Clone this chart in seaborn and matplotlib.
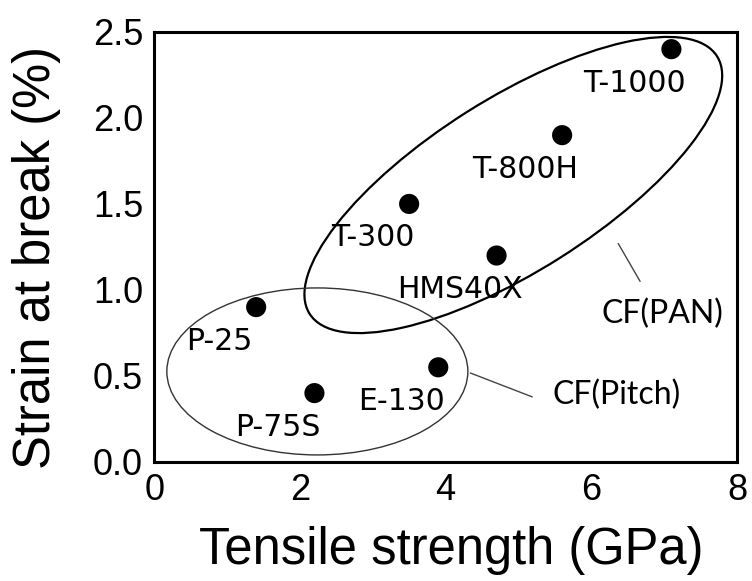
import numpy as np
import pandas as pd
import matplotlib
matplotlib.use("Agg")
import matplotlib.pyplot as plt
import matplotlib.transforms as mtransforms
from matplotlib.patches import Ellipse
import seaborn as sns

# carbon fibre grades: tensile strength (GPa) vs strain at break (%)
fibers = ["T-1000", "T-800H", "T-300", "HMS40X", "P-25", "P-75S", "E-130"]
strength = [7.1, 5.6, 3.5, 4.7, 1.4, 2.2, 3.9]
strain = [2.4, 1.9, 1.5, 1.2, 0.9, 0.4, 0.55]

group_names = ["CF(PAN)", "CF(Pitch)"]

df = pd.DataFrame({"fiber": fibers, "strength": strength, "strain": strain})

sns.set_style("white")
plt.rcParams["font.family"] = ["Liberation Sans", "DejaVu Sans"]
plt.rcParams["text.color"] = "black"
plt.rcParams["axes.labelcolor"] = "black"
plt.rcParams["xtick.color"] = "black"
plt.rcParams["ytick.color"] = "black"

fig = plt.figure(figsize=(7.52, 5.81), dpi=100)
ax = fig.add_axes([0.205, 0.205, 0.775, 0.740])

sns.scatterplot(data=df, x="strength", y="strain", s=210, color="black",
                edgecolor="none", ax=ax, zorder=3)

for name, xv, yv in zip(df["fiber"], df["strength"], df["strain"]):
    ax.annotate(name, (xv, yv), xytext=(-26.5, -24.5), textcoords="offset points",
                ha="center", va="center", fontsize=21.5, family="DejaVu Sans")

# group ellipses, sized in inches so the tilt is not sheared by the axes aspect
def ring(cx, cy, w, h, angle, lw, color):
    tr = fig.dpi_scale_trans + mtransforms.ScaledTranslation(cx, cy, ax.transData)
    e = Ellipse((0, 0), w, h, angle=angle, transform=tr, fill=False,
                lw=lw, edgecolor=color, zorder=2)
    ax.add_patch(e)

ring(4.93, 1.61, 4.82, 1.73, 32.3, 1.6, "black")
ring(2.24, 0.526, 3.01, 1.67, 0, 1.0, "#333333")

# leader lines + group labels
ax.plot([6.37, 6.67], [1.27, 1.05], color="#444444", lw=1.0)
ax.plot([4.34, 5.19], [0.517, 0.378], color="#444444", lw=1.0)
ax.text(6.98, 0.86, group_names[0], ha="center", va="center", fontsize=23,
        family=["Lato", "DejaVu Sans"])
ax.text(6.35, 0.39, group_names[1], ha="center", va="center", fontsize=23,
        family=["Lato", "DejaVu Sans"])

ax.set_xlim(0, 8)
ax.set_ylim(0, 2.5)
ax.set_xticks([0, 2, 4, 6, 8])
ax.set_yticks([0.0, 0.5, 1.0, 1.5, 2.0, 2.5])
ax.set_yticklabels(["0.0", "0.5", "1.0", "1.5", "2.0", "2.5"])
ax.tick_params(length=0, labelsize=26, pad=8)

ax.set_xlabel("Tensile strength (GPa)", fontsize=36.5)
ax.set_ylabel("Strain at break (%)", fontsize=36.5)
ax.xaxis.set_label_coords(0.51, -0.15)
ax.yaxis.set_label_coords(-0.16, 0.475)

for sp in ax.spines.values():
    sp.set_visible(True)
    sp.set_color("black")
    sp.set_linewidth(2.2)

fig.savefig("out.png", dpi=100)
